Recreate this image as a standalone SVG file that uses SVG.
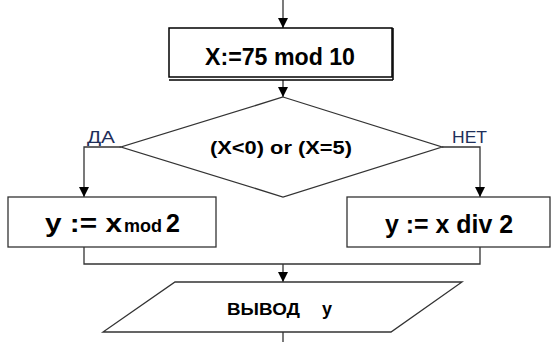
<svg xmlns="http://www.w3.org/2000/svg" width="551" height="342" viewBox="0 0 551 342">
<style>
.shape{fill:#fff;stroke:#000;stroke-width:1.5}
.line{fill:none;stroke:#333;stroke-width:1.3}
.t{font-family:"Liberation Sans",Arial,sans-serif;font-weight:bold;fill:#000}
.lbl{font-family:"Liberation Sans",Arial,sans-serif;fill:#1f2f5a;font-size:16px}
</style>
<defs>
<marker id="arr" viewBox="0 0 10 10" refX="10" refY="5" markerWidth="10" markerHeight="10" markerUnits="userSpaceOnUse" orient="auto">
<path d="M0,0 L10,5 L0,10 Z" fill="#000"/>
</marker>
</defs>
<rect width="551" height="342" fill="#fff"/>
<g id="connectors">
<line class="line" x1="283" y1="0" x2="283" y2="28" marker-end="url(#arr)"/>
<line class="line" x1="283" y1="80" x2="283" y2="97" marker-end="url(#arr)"/>
<polyline class="line" points="121,147 84,147 84,197" marker-end="url(#arr)"/>
<polyline class="line" points="442,147 480,147 480,197" marker-end="url(#arr)"/>
<polyline class="line" points="84,247 84,264 480,264 480,247"/>
<line class="line" x1="283" y1="264" x2="283" y2="282" marker-end="url(#arr)"/>
<line class="line" x1="283" y1="332" x2="283" y2="342"/>
</g>
<g id="assign">
<rect class="shape" x="169" y="28" width="223" height="49"/>
<line x1="169" y1="80" x2="393" y2="80" stroke="#000" stroke-width="1.5"/>
<line x1="393" y1="28" x2="393" y2="80" stroke="#000" stroke-width="1.5"/>
<text class="t" x="280" y="65" font-size="24" text-anchor="middle" textLength="150" lengthAdjust="spacingAndGlyphs">X:=75 mod 10</text>
</g>
<g id="decision">
<polygon class="shape" points="283,97 442,147 283,197 121,147" style="stroke:#333;stroke-width:1.3"/>
<text class="t" x="281" y="154" font-size="19" text-anchor="middle" textLength="142" lengthAdjust="spacingAndGlyphs">(X&lt;0) or (X=5)</text>
<text class="lbl" x="87" y="143" textLength="28" lengthAdjust="spacingAndGlyphs">ДА</text>
<text class="lbl" x="452" y="143" textLength="35" lengthAdjust="spacingAndGlyphs">НЕТ</text>
</g>
<g id="yes-branch">
<rect class="shape" x="8" y="197" width="208" height="50" style="stroke:#333;stroke-width:1.3"/>
<text class="t" x="45" y="232" font-size="25"><tspan textLength="77" lengthAdjust="spacingAndGlyphs">y := x</tspan><tspan font-size="18" dx="2">mod</tspan><tspan dx="4">2</tspan></text>
</g>
<g id="no-branch">
<rect class="shape" x="347" y="197" width="203" height="50" style="stroke:#333;stroke-width:1.3"/>
<text class="t" x="449" y="233" font-size="25" text-anchor="middle" textLength="128" lengthAdjust="spacingAndGlyphs">y := x div 2</text>
</g>
<g id="output">
<polygon class="shape" points="175,282 462,282 391,332 103,332" style="stroke:#333;stroke-width:1.3"/>
<text class="t" x="227" y="315" font-size="17" textLength="73" lengthAdjust="spacingAndGlyphs">ВЫВОД</text>
<text class="t" x="322" y="315" font-size="18">у</text>
</g>
</svg>
